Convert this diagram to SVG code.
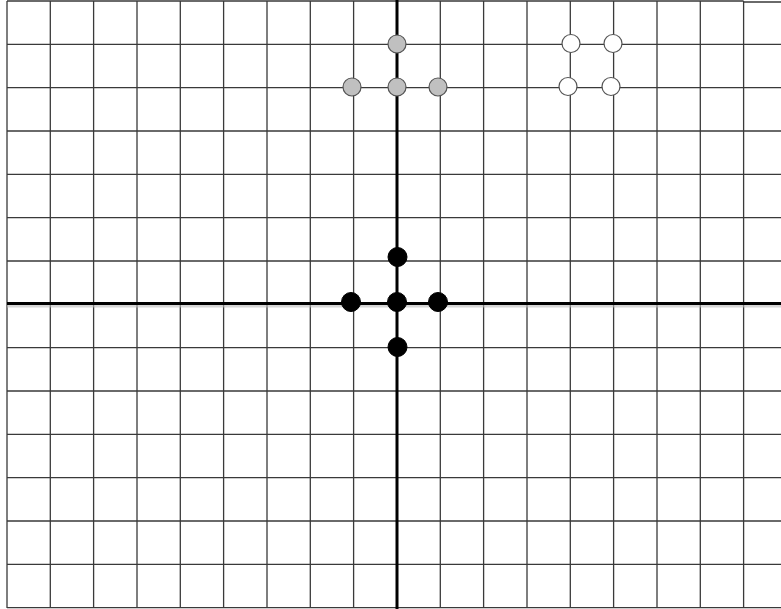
<svg xmlns="http://www.w3.org/2000/svg" width="781" height="609" viewBox="0 0 781 609">
<style>
.g{stroke:#3a3a3a;stroke-width:1.3;fill:none}
.ax{stroke:#000;stroke-width:3;fill:none}
.sh{stroke:#bbb;stroke-width:3;fill:none;opacity:0.6}
.gray{fill:#c0c0c0;stroke:#555;stroke-width:1.2}
.white{fill:#fff;stroke:#555;stroke-width:1.2}
.black{fill:#000;stroke:#000;stroke-width:1}
</style>
<rect width="781" height="609" fill="#fff"/>
<g id="grid">
<path class="g" d="M7,1V608M50.3,1V608M93.6,1V608M137,1V608M180.3,1V608M223.6,1V608M267,1V608M310.3,1V608M353.6,1V608M440.3,1V608M483.6,1V608M527,1V608M570.3,1V608M613.6,1V608M657,1V608M700.3,1V608M743.6,1V608"/>
<path class="g" d="M7,1H743.6M743.6,2H781M7,44.3H781M7,87.6H781M7,131H781M7,174.3H781M7,217.6H781M7,261H781M7,347.6H781M7,391H781M7,434.3H781M7,477.6H781M7,521H781M7,564.3H781M7,607.6H781"/>
</g>
<g id="axes">
<path class="sh" d="M7,306H781"/>
<path class="ax" d="M7,303.5H781"/>
<path class="ax" d="M397,0V609"/>
</g>
<g id="gray-dots">
<circle class="gray" cx="397" cy="44" r="9"/>
<circle class="gray" cx="352" cy="87" r="9"/>
<circle class="gray" cx="397" cy="87" r="9"/>
<circle class="gray" cx="438" cy="87" r="9"/>
</g>
<g id="white-dots">
<circle class="white" cx="571" cy="43.5" r="9"/>
<circle class="white" cx="613" cy="43.5" r="9"/>
<circle class="white" cx="568" cy="86.5" r="9"/>
<circle class="white" cx="611" cy="86.5" r="9"/>
</g>
<g id="black-dots">
<circle class="black" cx="397.5" cy="257" r="9.5"/>
<circle class="black" cx="351" cy="302" r="9.5"/>
<circle class="black" cx="397" cy="302" r="9.5"/>
<circle class="black" cx="438" cy="302" r="9.5"/>
<circle class="black" cx="397.5" cy="347" r="9.5"/>
</g>
</svg>
